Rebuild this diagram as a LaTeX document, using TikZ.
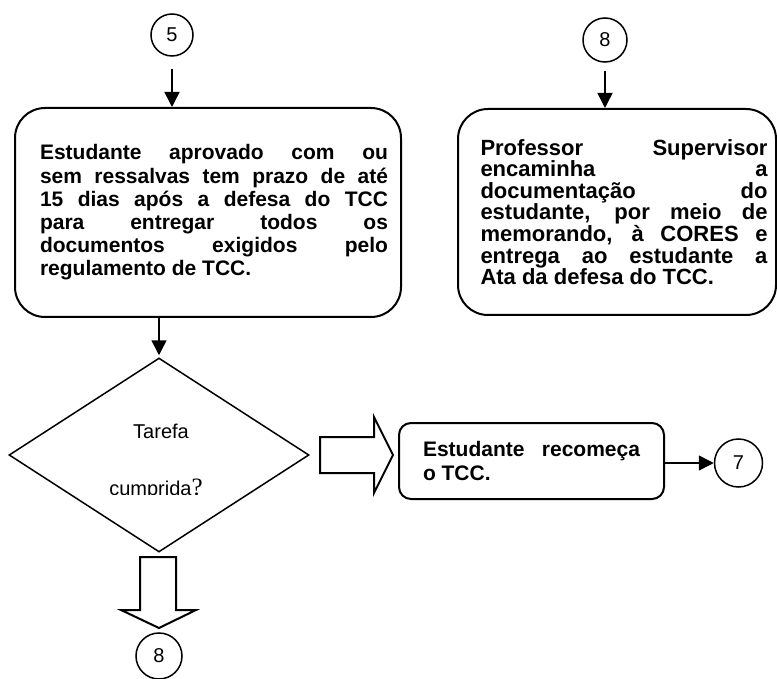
\documentclass[tikz,border=0pt]{standalone}
\usepackage{fontspec}
\setmainfont{Liberation Sans}
\newfontfamily\serifq{Liberation Serif}
\usetikzlibrary{arrows.meta,shapes.geometric}

\begin{document}
\begin{tikzpicture}[
  x=1pt,y=-1pt,>={Triangle[length=15pt,width=15pt]},
  conn/.style={circle,draw,line width=1.5pt,inner sep=0pt,
    font=\fontsize{20}{24}\selectfont},
  task/.style={draw,line width=2pt,rounded corners=30pt,inner sep=0pt,
    align=justify,font=\fontsize{21}{23.2}\selectfont\bfseries},
  decide/.style={diamond,draw,line width=1.5pt,inner sep=0pt,
    minimum width=300pt,minimum height=194pt},
  plain/.style={anchor=base,inner sep=0pt,font=\fontsize{20}{24}\selectfont},
  flow/.style={->,line width=1.5pt},
  bigarrow/.style={draw,line width=2pt,fill=white,line join=miter}
]
\hyphenpenalty=10000 \exhyphenpenalty=10000 \tolerance=10000 \hbadness=10000
\useasboundingbox (0,0) rectangle (777,679);

\node[conn,minimum size=42pt] (c5) at (172,35) {5};
\node[conn,minimum size=44pt] (c8a) at (605,40) {8};

\node[task,text width=360pt,minimum width=386pt,minimum height=209pt]
  (prazo) at (208,212.5) {\hspace*{12pt}\parbox{348pt}{Estudante aprovado com ou\linebreak
  sem ressalvas tem prazo de até\linebreak 15 dias após a defesa do TCC\linebreak
  para entregar todos os\linebreak documentos exigidos pelo\linebreak
  regulamento de TCC.}};
\node[task,text width=301pt,minimum width=318pt,minimum height=206pt,
  font=\fontsize{22}{21.6}\selectfont\bfseries]
  (encaminha) at (617,212) {\hspace*{14pt}\parbox{287pt}{Professor Supervisor\linebreak
  encaminha a\linebreak documentação do\linebreak
  estudante, por meio de\linebreak memorando, à CORES e\linebreak
  entrega ao estudante a\linebreak Ata da defesa do TCC.}};

\draw[flow,shorten <=12pt] (c5.south) -- (c5.south |- prazo.north);
\draw[flow,shorten <=8pt] (c8a.south) -- (c8a.south |- encaminha.north);

\node[decide] (tarefa) at (159,455) {};
\node[plain] (tarefa1) at (161,438) {Tarefa};
\begin{scope}
  \clip (60,470) rectangle (260,494);
  \node[plain] (tarefa2) at (156,495)
    {cumprida{\serifq\fontsize{25}{28}\selectfont ?}};
\end{scope}
\draw[flow,shorten >=2pt] (prazo.south -| tarefa) -- (tarefa.north);

\node[task,rounded corners=12pt,text width=217pt,minimum width=265pt,
  minimum height=76pt] (recomeca) at (531.5,461)
  {Estudante recomeça\linebreak o TCC.};
\node[conn,minimum size=48pt] (c7) at (738.5,463) {7};
\draw[flow] (recomeca.east |- c7) -- (c7.west);

\node[conn,minimum size=46pt] (c8b) at (159,656) {8};

\draw[bigarrow] (320,437) -- (374,437) -- (374,417) -- (393,455)
  -- (374,493) -- (374,473) -- (320,473) -- cycle;
\draw[bigarrow] (140,557) -- (176,557) -- (176,610) -- (196,610)
  -- (159,628) -- (121,610) -- (140,610) -- cycle;
\end{tikzpicture}
\end{document}
